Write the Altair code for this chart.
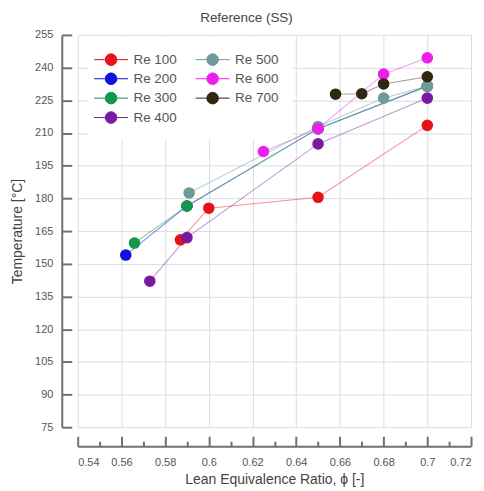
import altair as alt
import pandas as pd

series = ["Re 100", "Re 200", "Re 300", "Re 400", "Re 500", "Re 600", "Re 700"]
phi = {
    "Re 100": [0.587, 0.600, 0.650, 0.700],
    "Re 200": [0.562, 0.590, 0.650, 0.700],
    "Re 300": [0.566, 0.590, 0.650, 0.700],
    "Re 400": [0.573, 0.590, 0.650, 0.700],
    "Re 500": [0.591, 0.650, 0.680, 0.700],
    "Re 600": [0.625, 0.650, 0.680, 0.700],
    "Re 700": [0.658, 0.670, 0.680, 0.700],
}
temp = {
    "Re 100": [161.0, 175.5, 180.5, 213.5],
    "Re 200": [154.0, 176.5, 212.0, 231.5],
    "Re 300": [159.5, 176.5, 212.0, 231.5],
    "Re 400": [142.0, 162.0, 205.0, 226.0],
    "Re 500": [182.5, 213.0, 226.0, 231.5],
    "Re 600": [201.5, 212.0, 237.0, 244.5],
    "Re 700": [227.8, 228.0, 232.5, 235.8],
}
colors = {
    "Re 100": "#e8101a",
    "Re 200": "#1010e0",
    "Re 300": "#11984a",
    "Re 400": "#7a1aa0",
    "Re 500": "#6f9a9a",
    "Re 600": "#ec1eec",
    "Re 700": "#2e2812",
}

y_ticks = [75, 90, 105, 120, 135, 150, 165, 180, 195, 210, 225, 240, 255]
x_ticks = [0.54, 0.56, 0.58, 0.60, 0.62, 0.64, 0.66, 0.68, 0.70, 0.72]
x_minor = [0.55, 0.57, 0.59, 0.61, 0.63, 0.65, 0.67, 0.69, 0.71]

rows = []
for s in series:
    for p, t in zip(phi[s], temp[s]):
        rows.append({"series": s, "phi": p, "T": t})
df = pd.DataFrame(rows)

FONT = "Liberation Sans"
xscale = alt.Scale(domain=[0.54, 0.72], nice=False, zero=False)
yscale = alt.Scale(domain=[75, 255], nice=False, zero=False)
cscale = alt.Scale(domain=series, range=[colors[s] for s in series])

sym = ("M-2.2,0L-0.75,0M0.75,0L2.2,0"
       "M-0.75,0A0.75,0.75 0 1,1 0.75,0A0.75,0.75 0 1,1 -0.75,0Z")

legend = alt.Legend(
    title=None, orient="none", legendX=11, legendY=2, columns=2,
    symbolType=sym, symbolSize=240, symbolStrokeWidth=1.0, symbolOpacity=1,
    labelFont=FONT, labelFontSize=13.5, labelColor="#555555", labelOffset=14,
    columnPadding=16, rowPadding=2.5, padding=14, fillColor="white",
)

x_main = alt.Axis(orient="bottom", offset=19, values=x_ticks, format="~g",
                  domainColor="#707070", domainWidth=2, ticks=False,
                  labelPadding=10, labelFont=FONT, labelFontSize=11,
                  labelColor="#555555", grid=True, gridColor="#dcdcdc",
                  title="Lean Equivalence Ratio, ϕ [-]", titleFont=FONT,
                  titleFontSize=14, titleFontWeight="normal",
                  titleColor="#444444", titlePadding=6)
y_main = alt.Axis(orient="left", offset=16, values=y_ticks,
                  domainColor="#707070", domainWidth=2, ticks=False,
                  labelPadding=9, labelFont=FONT, labelFontSize=11,
                  labelColor="#555555", grid=True, gridColor="#dcdcdc",
                  title="Temperature [°C]", titleFont=FONT, titleFontSize=14,
                  titleFontWeight="normal", titleColor="#444444",
                  titlePadding=10)

lines = alt.Chart(df).mark_line(strokeWidth=1.1, strokeOpacity=0.45).encode(
    x=alt.X("phi:Q", scale=xscale, axis=x_main),
    y=alt.Y("T:Q", scale=yscale, axis=y_main),
    color=alt.Color("series:N", scale=cscale, legend=legend),
    detail="series:N",
)
points = alt.Chart(df).mark_circle(size=135, opacity=1).encode(
    x=alt.X("phi:Q", scale=xscale, axis=None),
    y=alt.Y("T:Q", scale=yscale, axis=None),
    color=alt.Color("series:N", scale=cscale, legend=legend),
)

tick_common = dict(domain=False, labels=False, grid=False, title=None,
                   tickColor="#707070", tickWidth=2)
x_major_ticks = alt.Chart(df).mark_point(opacity=0).encode(
    x=alt.X("phi:Q", scale=xscale,
            axis=alt.Axis(orient="bottom", offset=9, values=x_ticks,
                          tickSize=10, **tick_common)),
    y=alt.Y("T:Q", scale=yscale, axis=None),
)
x_minor_ticks = alt.Chart(df).mark_point(opacity=0).encode(
    x=alt.X("phi:Q", scale=xscale,
            axis=alt.Axis(orient="bottom", offset=14, values=x_minor,
                          tickSize=5, **tick_common)),
    y=alt.Y("T:Q", scale=yscale, axis=None),
)
y_major_ticks = alt.Chart(df).mark_point(opacity=0).encode(
    x=alt.X("phi:Q", scale=xscale, axis=None),
    y=alt.Y("T:Q", scale=yscale,
            axis=alt.Axis(orient="left", offset=6, values=y_ticks,
                          tickSize=10, **tick_common)),
)

chart = alt.layer(lines, points, x_major_ticks, x_minor_ticks, y_major_ticks).resolve_axis(
    x="independent", y="independent"
).properties(
    width=395, height=394,
    autosize=alt.AutoSizeParams(type="none"),
    padding={"left": 70, "top": 26, "right": 5, "bottom": 60},
    title=alt.TitleParams("Reference (SS)", font=FONT, fontSize=13.5,
                          fontWeight="normal", color="#444444",
                          anchor="middle", dx=-28, offset=4),
).configure_view(stroke=None)

chart.save("out.html", embed_options={"renderer": "svg", "actions": False})
